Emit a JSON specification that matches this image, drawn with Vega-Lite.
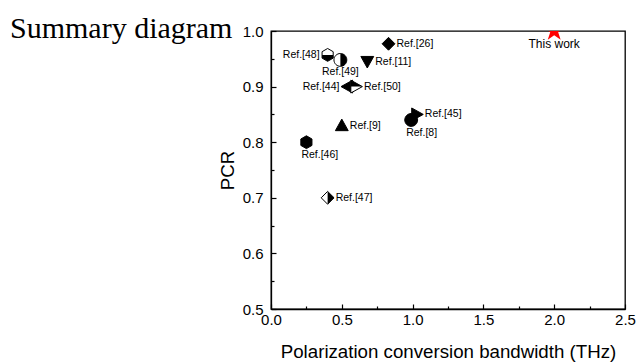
{
  "$schema": "https://vega.github.io/schema/vega-lite/v6.json",
  "width": 354,
  "height": 278,
  "autosize": {"type": "none"},
  "padding": {"left": 271, "top": 31, "right": 11, "bottom": 54},
  "background": "white",
  "config": {
    "view": {"stroke": "black", "strokeWidth": 1.3},
    "axis": {"labelFont": "Liberation Sans", "titleFont": "Liberation Sans", "labelColor": "black", "titleColor": "black", "domainColor": "black", "tickColor": "black", "domainWidth": 1.3, "tickWidth": 1.2, "grid": false, "titleFontWeight": "normal", "labelFlush": false}
  },
  "title": {"text": "Summary diagram", "anchor": "start", "orient": "top", "frame": "group", "font": "Liberation Serif", "fontSize": 30, "fontWeight": "normal", "color": "black", "dx": -261, "offset": 0, "dy": 44, "baseline": "alphabetic"},
  "data": {"values": [
    {"ref": "This work", "bw": 2.0, "pcr": 1.0},
    {"ref": "Ref.[26]", "bw": 0.83, "pcr": 0.977},
    {"ref": "Ref.[48]", "bw": 0.40, "pcr": 0.957},
    {"ref": "Ref.[49]", "bw": 0.49, "pcr": 0.948},
    {"ref": "Ref.[11]", "bw": 0.68, "pcr": 0.945},
    {"ref": "Ref.[44]", "bw": 0.54, "pcr": 0.90},
    {"ref": "Ref.[50]", "bw": 0.60, "pcr": 0.90},
    {"ref": "Ref.[45]", "bw": 1.03, "pcr": 0.85},
    {"ref": "Ref.[8]", "bw": 0.99, "pcr": 0.84},
    {"ref": "Ref.[9]", "bw": 0.50, "pcr": 0.83},
    {"ref": "Ref.[46]", "bw": 0.25, "pcr": 0.80},
    {"ref": "Ref.[47]", "bw": 0.40, "pcr": 0.70}
  ]},
  "encoding": {
    "x": {"field": "bw", "type": "quantitative", "scale": {"domain": [0, 2.5], "nice": false},
      "axis": {"title": "Polarization conversion bandwidth (THz)", "titleFontSize": 18.7, "titlePadding": 13, "labelFontSize": 15,
        "values": [0, 0.25, 0.5, 0.75, 1, 1.25, 1.5, 1.75, 2, 2.25, 2.5],
        "labelExpr": "abs(round(datum.value*2) - datum.value*2) < 0.001 ? format(datum.value, '.1f') : ''",
        "labelPadding": 8, "labelOverlap": false,
        "tickSize": {"condition": {"test": "abs(round(datum.value*2) - datum.value*2) < 0.001", "value": -5}, "value": -3}}},
    "y": {"field": "pcr", "type": "quantitative", "scale": {"domain": [0.5, 1.0], "nice": false, "zero": false},
      "axis": {"title": "PCR", "titleFontSize": 18.7, "titlePadding": 5, "labelFontSize": 15,
        "values": [0.5, 0.55, 0.6, 0.65, 0.7, 0.75, 0.8, 0.85, 0.9, 0.95, 1.0],
        "labelExpr": "abs(round(datum.value*10) - datum.value*10) < 0.001 ? format(datum.value, '.1f') : ''",
        "labelPadding": 13, "labelOverlap": false,
        "tickSize": {"condition": {"test": "abs(round(datum.value*10) - datum.value*10) < 0.001", "value": -5}, "value": -3}}}
  },
  "layer": [
    {
      "transform": [{"filter": "datum.ref != 'This work'"}],
      "mark": {"type": "point", "filled": true, "size": 165, "stroke": "black", "strokeWidth": 1, "opacity": 1},
      "encoding": {
        "shape": {"field": "ref", "type": "nominal", "legend": null, "scale": {
          "domain": ["Ref.[26]", "Ref.[48]", "Ref.[49]", "Ref.[11]", "Ref.[44]", "Ref.[50]", "Ref.[45]", "Ref.[8]", "Ref.[9]", "Ref.[46]", "Ref.[47]"],
          "range": [
            "M-1,0L0,-1L1,0L0,1Z",
            "M0,-1L0.866,-0.5L0.866,0.5L0,1L-0.866,0.5L-0.866,-0.5Z",
            "M1,0A1,1,0,1,1,-1,0A1,1,0,1,1,1,0Z",
            "M-1,-0.8L1,-0.8L0,1Z",
            "M-1,0L0.8,-1L0.8,1Z",
            "M1,0L-0.8,-1L-0.8,1Z",
            "M1,0L-0.8,-1L-0.8,1Z",
            "M1,0A1,1,0,1,1,-1,0A1,1,0,1,1,1,0Z",
            "M0,-1L1,0.8L-1,0.8Z",
            "M0,-1L0.866,-0.5L0.866,0.5L0,1L-0.866,0.5L-0.866,-0.5Z",
            "M-1,0L0,-1L1,0L0,1Z"
          ]}},
        "fill": {"field": "ref", "type": "nominal", "legend": null, "scale": {
          "domain": ["Ref.[26]", "Ref.[48]", "Ref.[49]", "Ref.[11]", "Ref.[44]", "Ref.[50]", "Ref.[45]", "Ref.[8]", "Ref.[9]", "Ref.[46]", "Ref.[47]"],
          "range": ["black", "white", "white", "black", "black", "white", "black", "black", "black", "black", "white"]}}
      }
    },
    {
      "transform": [{"filter": {"field": "ref", "oneOf": ["Ref.[48]", "Ref.[49]", "Ref.[50]", "Ref.[47]"]}}],
      "mark": {"type": "point", "filled": true, "size": 165, "fill": "black", "strokeWidth": 0, "opacity": 1},
      "encoding": {
        "shape": {"field": "ref", "type": "nominal", "legend": null, "scale": {
          "domain": ["Ref.[48]", "Ref.[49]", "Ref.[50]", "Ref.[47]"],
          "range": [
            "M-0.866,0L0.866,0L0.866,0.5L0,1L-0.866,0.5Z",
            "M0,-1A1,1,0,0,1,0,1Z",
            "M-0.8,-1L1,0L-0.8,0Z",
            "M0,-1L1,0L0,1Z"
          ]}}
      }
    },
    {
      "transform": [{"filter": "datum.ref == 'This work'"}],
      "mark": {"type": "point", "filled": true, "size": 480, "fill": "#ff0000", "strokeWidth": 0, "opacity": 1, "clip": true,
        "shape": "M0,-1L0.2245,-0.309L0.9511,-0.309L0.3633,0.118L0.5878,0.809L0,0.382L-0.5878,0.809L-0.3633,0.118L-0.9511,-0.309L-0.2245,-0.309Z"}
    },
    {
      "transform": [{"filter": {"field": "ref", "oneOf": ["Ref.[26]", "Ref.[11]", "Ref.[50]", "Ref.[45]", "Ref.[9]", "Ref.[47]"]}}],
      "mark": {"type": "text", "align": "left", "baseline": "middle", "dx": 8, "font": "Liberation Sans", "fontSize": 10.5, "color": "black"},
      "encoding": {"text": {"field": "ref"}}
    },
    {
      "transform": [{"filter": {"field": "ref", "oneOf": ["Ref.[48]", "Ref.[44]"]}}],
      "mark": {"type": "text", "align": "right", "baseline": "middle", "dx": -8, "font": "Liberation Sans", "fontSize": 10.5, "color": "black"},
      "encoding": {"text": {"field": "ref"}}
    },
    {
      "transform": [{"filter": {"field": "ref", "oneOf": ["Ref.[8]", "Ref.[46]"]}}],
      "mark": {"type": "text", "align": "left", "baseline": "middle", "dx": -5, "dy": 13, "font": "Liberation Sans", "fontSize": 10.5, "color": "black"},
      "encoding": {"text": {"field": "ref"}}
    },
    {
      "transform": [{"filter": {"field": "ref", "oneOf": ["Ref.[49]"]}}],
      "mark": {"type": "text", "align": "center", "baseline": "middle", "dy": 12, "font": "Liberation Sans", "fontSize": 10.5, "color": "black"},
      "encoding": {"text": {"field": "ref"}}
    },
    {
      "transform": [{"filter": "datum.ref == 'This work'"}],
      "mark": {"type": "text", "align": "center", "baseline": "middle", "dy": 13, "font": "Liberation Sans", "fontSize": 12, "color": "black"},
      "encoding": {"text": {"field": "ref"}}
    }
  ],
  "resolve": {"scale": {"shape": "independent"}}
}
